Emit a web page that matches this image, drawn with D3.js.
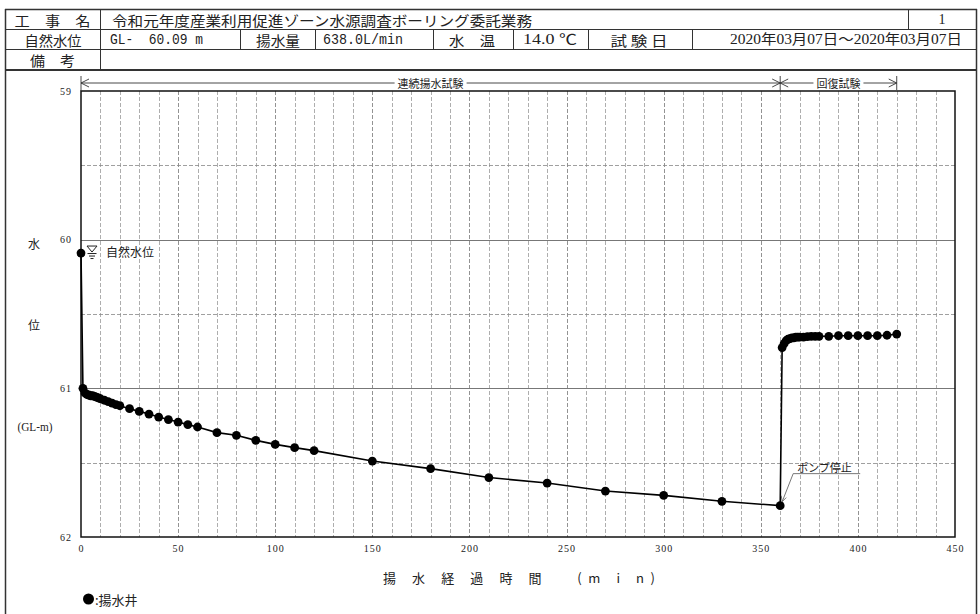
<!DOCTYPE html>
<html>
<head>
<meta charset="utf-8">
<script src="https://cdn.jsdelivr.net/npm/d3@7"></script>
<style>
  html, body { margin: 0; padding: 0; background: #fff; }
  svg text { font-family: "Liberation Serif", "Noto Sans CJK JP", serif; fill: #222; }
  .jp { font-family: "Noto Sans CJK JP", sans-serif; }
  .mono { font-family: "Liberation Mono", "Noto Sans CJK JP", monospace; }
</style>
</head>
<body>
<svg id="chart" width="980" height="614"></svg>
<script>
// ---- header values ----
const projectName = "令和元年度産業利用促進ゾーン水源調査ボーリング委託業務";
const sheetNo = "1";
const naturalLevelText = "GL-\u00a0\u00a060.09 m";
const pumpRateText = "638.0L/min";
const waterTempText = "14.0 ℃";
const testDateText = "2020年03月07日～2020年03月07日";

// ---- axis ticks ----
const xTicks = [0, 50, 100, 150, 200, 250, 300, 350, 400, 450];
const yTicks = [59, 60, 61, 62];

// ---- pumping phase (elapsed min, water level GL-m) ----
const pumpTime  = [0, 1, 2, 3, 4, 5, 6, 7, 8, 9, 10, 12, 14, 16, 18, 20,
                   25, 30, 35, 40, 45, 50, 55, 60, 70, 80, 90, 100, 110, 120,
                   150, 180, 210, 240, 270, 300, 330, 360];
const pumpLevel = [60.09, 61.00, 61.03, 61.04, 61.045, 61.05, 61.05, 61.055, 61.06, 61.065, 61.07,
                   61.08, 61.09, 61.10, 61.11, 61.117,
                   61.137, 61.155, 61.173, 61.193, 61.21, 61.227, 61.244, 61.26,
                   61.298, 61.316, 61.35, 61.377, 61.399, 61.419,
                   61.489, 61.54, 61.60, 61.637, 61.691, 61.72, 61.76, 61.789];

// ---- recovery phase ----
const recovTime  = [361, 362, 363, 364, 365, 366, 367, 368, 369, 370,
                    372, 374, 376, 378, 380, 385, 390, 395, 400, 405, 410, 415, 420];
const recovLevel = [60.726, 60.70, 60.68, 60.67, 60.665, 60.66, 60.66, 60.655, 60.655, 60.655,
                    60.655, 60.652, 60.65, 60.65, 60.65, 60.65, 60.646, 60.646, 60.646,
                    60.646, 60.646, 60.643, 60.635];

const pumpPts  = pumpTime.map((t, i) => ({ t, v: pumpLevel[i] }));
const recovPts = recovTime.map((t, i) => ({ t, v: recovLevel[i] }));
const allPts = pumpPts.concat(recovPts);

const svg = d3.select("#chart");
const frameColor = "#333";

// ---------- header table ----------
const hdr = svg.append("g");
function hline(x1, x2, yy, w) {
  hdr.append("line").attr("x1", x1).attr("x2", x2).attr("y1", yy).attr("y2", yy)
    .attr("stroke", frameColor).attr("stroke-width", w || 1);
}
function vline(xx, y1, y2, w) {
  hdr.append("line").attr("x1", xx).attr("x2", xx).attr("y1", y1).attr("y2", y2)
    .attr("stroke", frameColor).attr("stroke-width", w || 1);
}
hline(5, 977, 9.5, 1.5);
hline(5, 977, 29.5);
hline(5, 977, 49.5);
hline(5, 977, 70, 2);
vline(5.5, 9, 614, 1.5);
vline(976.5, 9, 614, 1.5);
vline(100.5, 9.5, 70);
vline(908.5, 9.5, 29.5);
[240.5, 315.5, 433.5, 513.5, 588.5, 692.5].forEach(xx => vline(xx, 29.5, 49.5));

function cellText(txt, xx, yy, anchor, cls, len) {
  const t = hdr.append("text").attr("x", xx).attr("y", yy)
    .attr("dominant-baseline", "central")
    .attr("text-anchor", anchor)
    .attr("font-size", 14)
    .style("white-space", "pre")
    .text(txt);
  if (cls) t.attr("class", cls);
  if (len) t.attr("textLength", len).attr("lengthAdjust", "spacingAndGlyphs");
  return t;
}
cellText("工　事　名", 52.5, 19.5, "middle", "jp", 76);
cellText(projectName, 112, 19.5, "start", "jp", 420);
cellText(sheetNo, 942, 19.5, "middle");
cellText("自然水位", 53, 39.5, "middle", "jp", 57);
cellText(naturalLevelText, 110, 39.5, "start", "mono", 93);
cellText("揚水量", 278, 39.5, "middle", "jp", 44);
cellText(pumpRateText, 323, 39.5, "start", "mono", 80);
cellText("水　温", 472, 39.5, "middle", "jp", 46);
cellText(waterTempText, 550, 39.5, "middle", null, 54);
cellText("試 験 日", 639, 39.5, "middle", "jp", 57);
cellText(testDateText, 846, 39.5, "middle", null, 232);
cellText("備　考", 52.5, 59.5, "middle", "jp", 45);

// ---------- plot scales ----------
const x = d3.scaleLinear().domain([0, 450]).range([81, 955]);
const y = d3.scaleLinear().domain([59, 62]).range([91, 537]);

// ---------- grid ----------
const grid = svg.append("g");
d3.range(10, 450, 10).forEach(t => {
  grid.append("line")
    .attr("x1", Math.round(x(t)) + 0.5).attr("x2", Math.round(x(t)) + 0.5)
    .attr("y1", y(59)).attr("y2", y(62))
    .attr("stroke", t % 50 === 0 ? "#777" : "#999")
    .attr("stroke-width", 0.8)
    .attr("stroke-dasharray", "4,2");
});
[59.5, 60, 60.5, 61, 61.5].forEach(v => {
  const solid = Math.abs(v - Math.round(v)) < 1e-9;
  grid.append("line")
    .attr("x1", x(0)).attr("x2", x(450))
    .attr("y1", Math.round(y(v)) + 0.5).attr("y2", Math.round(y(v)) + 0.5)
    .attr("stroke", solid ? "#777" : "#888")
    .attr("stroke-width", solid ? 1 : 0.8)
    .attr("stroke-dasharray", solid ? null : "4,2");
});

// plot frame
svg.append("rect")
  .attr("x", x(0)).attr("y", y(59))
  .attr("width", x(450) - x(0)).attr("height", y(62) - y(59))
  .attr("fill", "none").attr("stroke", "#111").attr("stroke-width", 1.5);

// ---------- axes ----------
const xAxis = svg.append("g")
  .attr("transform", `translate(0,${y(62)})`)
  .call(d3.axisBottom(x).tickValues(xTicks).tickSize(0).tickPadding(8).tickFormat(d3.format("d")));
xAxis.select(".domain").remove();
xAxis.selectAll("text").attr("font-size", 10).attr("letter-spacing", 1)
  .style("font-family", "Liberation Serif, serif").attr("fill", "#333");

const yAxis = svg.append("g")
  .attr("transform", `translate(${x(0)},0)`)
  .call(d3.axisLeft(y).tickValues(yTicks).tickSize(0).tickPadding(9).tickFormat(d3.format("d")));
yAxis.select(".domain").remove();
yAxis.selectAll("text").attr("font-size", 10).attr("letter-spacing", 1)
  .style("font-family", "Liberation Serif, serif").attr("fill", "#333");

// axis titles
const yTitleX = 34;
svg.append("text").attr("class", "jp").attr("x", yTitleX).attr("y", 243)
  .attr("text-anchor", "middle").attr("dominant-baseline", "central").attr("font-size", 12).text("水");
svg.append("text").attr("class", "jp").attr("x", yTitleX).attr("y", 324)
  .attr("text-anchor", "middle").attr("dominant-baseline", "central").attr("font-size", 12).text("位");
svg.append("text").attr("x", 35).attr("y", 427)
  .attr("text-anchor", "middle").attr("dominant-baseline", "central").attr("font-size", 12)
  .attr("textLength", 35).attr("lengthAdjust", "spacingAndGlyphs")
  .style("font-family", "Liberation Serif, Noto Sans CJK JP, serif").text("(GL-m)");

svg.append("text").attr("class", "jp").attr("x", 383).attr("y", 577)
  .attr("dominant-baseline", "central").attr("font-size", 13)
  .attr("textLength", 272).attr("lengthAdjust", "spacing")
  .style("white-space", "pre")
  .text("揚 水 経 過 時 間 　(m i n)");

// ---------- phase annotation above plot ----------
const ann = svg.append("g").attr("stroke", "#333").attr("fill", "none").attr("stroke-width", 0.9);
const annY = 83;
[[x(0), y(59)], [x(360), y(59)], [x(420), annY + 7]].forEach(([xx, yb]) => {
  ann.append("line").attr("x1", xx).attr("x2", xx).attr("y1", 76).attr("y2", yb);
});
function annSeg(xa, xb, label) {
  const mid = (xa + xb) / 2;
  const half = label.length * 11 / 2 + 3;
  ann.append("line").attr("x1", xa).attr("x2", mid - half).attr("y1", annY).attr("y2", annY);
  ann.append("line").attr("x1", mid + half).attr("x2", xb).attr("y1", annY).attr("y2", annY);
  ann.append("path").attr("d", `M${xa + 8},${annY - 4}L${xa},${annY}L${xa + 8},${annY + 4}`);
  ann.append("path").attr("d", `M${xb - 8},${annY - 4}L${xb},${annY}L${xb - 8},${annY + 4}`);
  svg.append("text").attr("class", "jp").attr("x", mid).attr("y", annY)
    .attr("text-anchor", "middle").attr("dominant-baseline", "central")
    .attr("font-size", 11).text(label);
}
annSeg(x(0), x(360), "連続揚水試験");
annSeg(x(360), x(420), "回復試験");

// ---------- data line & points ----------
const line = d3.line().x(d => x(d.t)).y(d => y(d.v));
svg.append("path").datum(allPts)
  .attr("d", line).attr("fill", "none").attr("stroke", "#000").attr("stroke-width", 1.6);
svg.append("g").selectAll("circle").data(allPts).join("circle")
  .attr("cx", d => x(d.t)).attr("cy", d => y(d.v)).attr("r", 4.4).attr("fill", "#000");

// natural water level marker
const nx = x(0) + 6, ny = y(pumpLevel[0]);
const mk = svg.append("g").attr("stroke", "#222").attr("stroke-width", 1).attr("fill", "none");
mk.append("path").attr("d", `M${nx},${ny - 7}L${nx + 10},${ny - 7}L${nx + 5},${ny - 1}Z`);
mk.append("line").attr("x1", nx + 0.5).attr("x2", nx + 9.5).attr("y1", ny + 0.5).attr("y2", ny + 0.5);
mk.append("line").attr("x1", nx + 2).attr("x2", nx + 8).attr("y1", ny + 3).attr("y2", ny + 3);
mk.append("line").attr("x1", nx + 3.5).attr("x2", nx + 6.5).attr("y1", ny + 5.5).attr("y2", ny + 5.5);
svg.append("text").attr("class", "jp").attr("x", nx + 19).attr("y", ny - 2)
  .attr("dominant-baseline", "central").attr("font-size", 12).text("自然水位");

// pump stop callout
const stop = pumpPts[pumpPts.length - 1];
const sx = x(stop.t), sy = y(stop.v);
const co = svg.append("g").attr("stroke", "#555").attr("stroke-width", 0.8).attr("fill", "none");
co.append("line").attr("x1", sx + 2).attr("y1", sy - 4).attr("x2", sx + 13).attr("y2", sy - 32);
co.append("line").attr("x1", sx + 13).attr("y1", sy - 32).attr("x2", sx + 80).attr("y2", sy - 32);
co.append("path").attr("d", `M${sx + 1},${sy - 10}L${sx + 2},${sy - 4}L${sx + 6},${sy - 8}`);
svg.append("text").attr("class", "jp").attr("x", sx + 17).attr("y", sy - 39)
  .attr("dominant-baseline", "central").attr("font-size", 11).attr("fill", "#333").text("ポンプ停止");

// ---------- legend ----------
svg.append("circle").attr("cx", 88.5).attr("cy", 599).attr("r", 5.5).attr("fill", "#000");
svg.append("text").attr("class", "jp").attr("x", 95).attr("y", 599)
  .attr("dominant-baseline", "central").attr("font-size", 13).text(":揚水井");
</script>
</body>
</html>
